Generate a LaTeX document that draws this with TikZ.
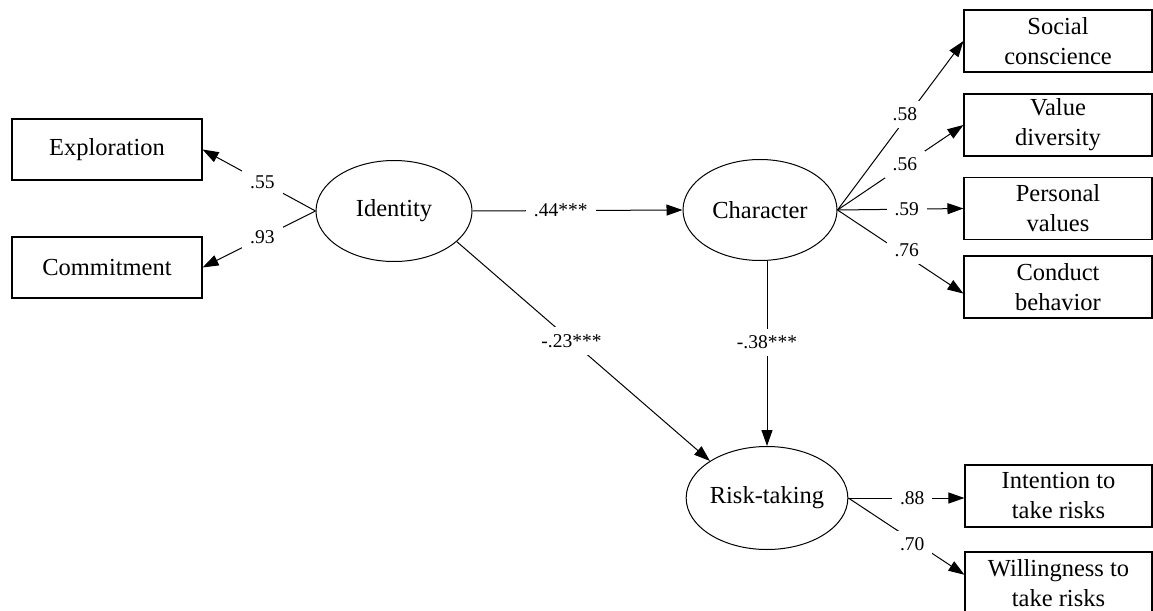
\documentclass[tikz,border=0pt]{standalone}
\usepackage{fontspec}
\setmainfont{Liberation Serif}
\usetikzlibrary{shapes.geometric,arrows.meta}
\begin{document}
\begin{tikzpicture}[x=1pt,y=-1pt,
 box/.style={draw, line width=1.1pt, minimum width=190pt, minimum height=61pt, inner sep=0pt, align=center, font=\fontsize{24.5}{30}\selectfont},
 rbox/.style={box, minimum width=188pt, minimum height=62pt},
 lat/.style={draw, ellipse, line width=1pt, inner sep=0pt, font=\fontsize{24.5}{29}\selectfont},
 coef/.style={fill=white, inner xsep=8pt, inner ysep=7pt, font=\fontsize{19.5}{22}\selectfont},
 arr/.style={line width=1pt, -{Triangle[length=16pt,width=11pt]}}
]
\useasboundingbox (0,0) rectangle (1153,610);

% observed variables, left
\node[box] (expl) at (107,149.5) {Exploration};
\node[box] (comm) at (107,267.5) {Commitment};

% latent variables
\node[lat, minimum width=156pt, minimum height=101pt] (id) at (394,211) {Identity};
\node[lat, minimum width=154pt, minimum height=101pt] (char) at (760,210) {Character};
\node[lat, minimum width=141pt, minimum height=103pt] (risk) at (767,498) {Risk-taking};

% observed variables, right
\node[rbox] (soc) at (1058,41) {Social\\conscience};
\node[rbox] (val) at (1058,125) {Value\\diversity};
\node[rbox] (pers) at (1058,208.5) {Personal\\values};
\node[rbox] (cond) at (1058,287) {Conduct\\behavior};
\node[rbox, minimum width=187pt] (int) at (1058.5,496) {Intention to\\take risks};
\node[rbox, minimum width=187pt] (will) at (1058.5,583) {Willingness to\\take risks};

% paths
\draw[arr] (id.west) -- node[coef, pos=0.47] {.55} (expl.east);
\draw[arr] (id.west) -- node[coef, pos=0.47] {.93} (comm.east);
\draw[arr] (id.east) -- node[coef, pos=0.42] {.44***} (char.west);
\draw[arr] (id.334) -- node[coef, pos=0.453] {-.23***} (risk.147);
\draw[arr] (risk.north |- char.south) -- node[coef, pos=0.44] {-.38***} (risk.north);

\draw[arr] (char.east) -- node[coef, pos=0.535, yshift=5pt] {.58} (soc.west);
\draw[arr] (char.east) -- node[coef, pos=0.535] {.56} (val.west);
\draw[arr] (char.east) -- node[coef, pos=0.55] {.59} (pers.west);
\draw[arr] (char.east) -- node[coef, pos=0.55, yshift=6pt] {.76} (cond.184);

\draw[arr] (risk.east) -- node[coef, pos=0.55] {.88} (risk.east -| int.west);
\draw[arr] (risk.east) -- node[coef, pos=0.55, yshift=-4pt] {.70} (will.175);
\end{tikzpicture}
\end{document}
